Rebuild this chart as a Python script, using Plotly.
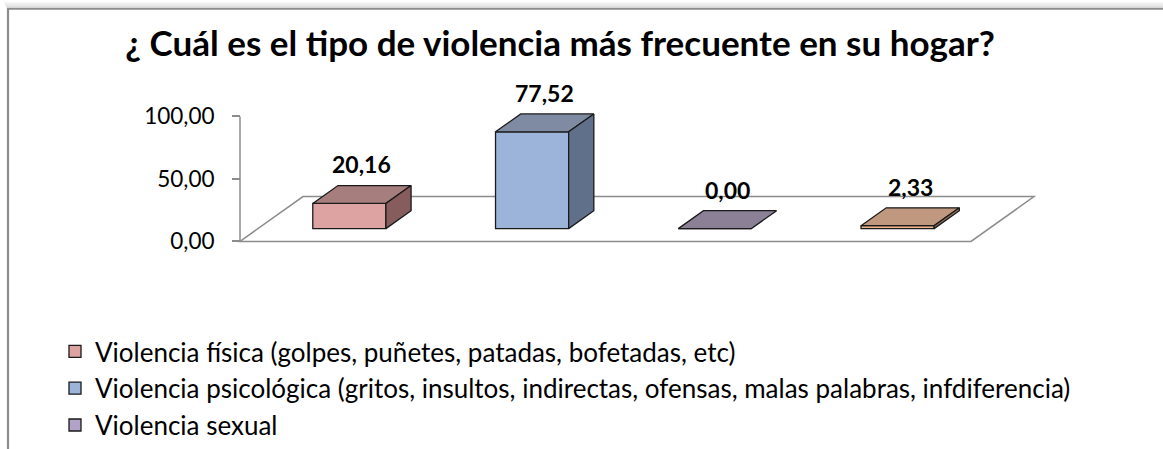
import plotly.graph_objects as go

# ---------------- data ----------------
categories = [
    "Violencia física (golpes, puñetes, patadas, bofetadas, etc)",
    "Violencia psicológica (gritos, insultos, indirectas, ofensas, malas palabras, infdiferencia)",
    "Violencia sexual",
    "Otros",
]
values = [20.16, 77.52, 0.00, 2.33]
tick_values = [0, 50, 100]
title_text = "¿ Cuál es el tipo de violencia más frecuente en su hogar?"

# ---------------- styles ----------------
front_colors = ["#DDA3A3", "#9DB4DA", "#B3A2C7", "#F2B48C"]
top_colors = ["#A67E7E", "#7E8BA3", "#8B8096", "#C0987F"]
side_colors = ["#875C5C", "#606F8A", "#6A5F76", "#96705A"]
show_in_legend = [True, True, True, False]
EDGE = "#1a1a1a"
AXIS_GRAY = "#8C8C8C"
FONT = "Lato"

# ---------------- layout geometry (pixels -> axis ranges) ----------------
W, H = 1163, 449
PL, PR, PT, PB = 229, 1050, 60, 262   # plot region in pixels
PX_PER_X = 182.75       # pixels per category unit
PX_PER_Y = 1.283        # pixels per value unit
X0_PX = 240             # pixel of x = 0
Y0_PX = 248             # pixel of y = 0
x_range = [(PL - X0_PX) / PX_PER_X, (PR - X0_PX) / PX_PER_X]
y_range = [-(PB - Y0_PX) / PX_PER_Y, (Y0_PX - PT) / PX_PER_Y]

DX = 63 / PX_PER_X      # floor depth (x units)
DY = 46 / PX_PER_Y      # floor depth (y units)
FRONT = 0.285           # bar front face offset, fraction of depth
DEPTH = 0.40            # bar depth, fraction of floor depth
BAR_W = 0.40
n = len(values)

def fx(px):
    return px / W

def fy(py):
    return 1 - py / H

fig = go.Figure()

fox, foy = FRONT * DX, FRONT * DY
bdx, bdy = DEPTH * DX, DEPTH * DY

# front faces (bars)
for i, (cat, v) in enumerate(zip(categories, values)):
    c = i + 0.5 + fox
    fig.add_trace(go.Bar(
        x=[c], y=[v], base=[foy], width=BAR_W, name=cat,
        marker=dict(color=front_colors[i], line=dict(color=EDGE, width=1.3)),
        showlegend=show_in_legend[i], hoverinfo="skip",
    ))

# top and side faces
for i, v in enumerate(values):
    c = i + 0.5 + fox
    x0, x1 = c - BAR_W / 2, c + BAR_W / 2
    top = foy + v
    fig.add_trace(go.Scatter(
        x=[x0, x1, x1 + bdx, x0 + bdx, x0],
        y=[top, top, top + bdy, top + bdy, top],
        fill="toself", fillcolor=top_colors[i], mode="lines",
        line=dict(color=EDGE, width=1.3), showlegend=False, hoverinfo="skip",
    ))
    if v > 0:
        fig.add_trace(go.Scatter(
            x=[x1, x1, x1 + bdx, x1 + bdx, x1],
            y=[foy, top, top + bdy, foy + bdy, foy],
            fill="toself", fillcolor=side_colors[i], mode="lines",
            line=dict(color=EDGE, width=1.3), showlegend=False, hoverinfo="skip",
        ))
    fig.add_annotation(
        x=c + bdx / 2, y=top + bdy / 2, yshift=30,
        text=f"{v:.2f}".replace(".", ","), showarrow=False,
        font=dict(family=FONT, size=23, color="black", weight="bold"),
    )

# floor outline and value axis line (behind the bars)
fig.add_shape(
    type="path", xref="x", yref="y", layer="below",
    path=f"M 0 0 L {n} 0 L {n + DX} {DY} L {DX} {DY} Z",
    line=dict(color=AXIS_GRAY, width=1.5), fillcolor="rgba(0,0,0,0)",
)
fig.add_shape(
    type="line", xref="x", yref="y", layer="below",
    x0=0, x1=0, y0=tick_values[0], y1=tick_values[-1],
    line=dict(color=AXIS_GRAY, width=1.5),
)

# chart frame with soft shadow
for k, col in enumerate(["#F5F5F5", "#ECECEC", "#E0E0E0"]):
    yy = 3 + k * 1.8
    fig.add_shape(type="line", xref="paper", yref="paper",
                  x0=fx(4 + k), x1=fx(1200), y0=fy(yy), y1=fy(yy),
                  line=dict(color=col, width=2))
fig.add_shape(type="rect", xref="paper", yref="paper",
              x0=fx(8), x1=fx(1200), y0=fy(470), y1=fy(9),
              line=dict(color=AXIS_GRAY, width=2.2), fillcolor="rgba(0,0,0,0)")

fig.update_layout(
    width=W, height=H,
    margin=dict(l=0, r=0, t=0, b=0),
    paper_bgcolor="white", plot_bgcolor="white",
    separators=",.",
    barmode="overlay",
    title=dict(text=title_text, x=560 / W, xref="container", xanchor="center",
               y=1 - 44 / H, yref="container", yanchor="middle",
               font=dict(family=FONT, size=35, color="black", weight="bold")),
    xaxis=dict(domain=[fx(PL), fx(PR)], range=x_range, visible=False, fixedrange=True),
    yaxis=dict(domain=[fy(PB), fy(PT)], range=y_range, anchor="free", position=fx(X0_PX),
               tickvals=tick_values, tickformat=".2f", showgrid=False, zeroline=False,
               showline=False, ticks="outside", ticklen=8, tickwidth=1.5, tickcolor=AXIS_GRAY,
               ticklabelstandoff=13,
               tickfont=dict(family=FONT, size=22.5, color="black")),
    legend=dict(x=fx(55), y=fy(337), xanchor="left", yanchor="top",
                font=dict(family=FONT, size=26, color="black"),
                bgcolor="rgba(0,0,0,0)"),
    showlegend=True,
)

fig.write_html("out.html", config={"displayModeBar": False},
               post_script="document.body.style.margin='0px';")
